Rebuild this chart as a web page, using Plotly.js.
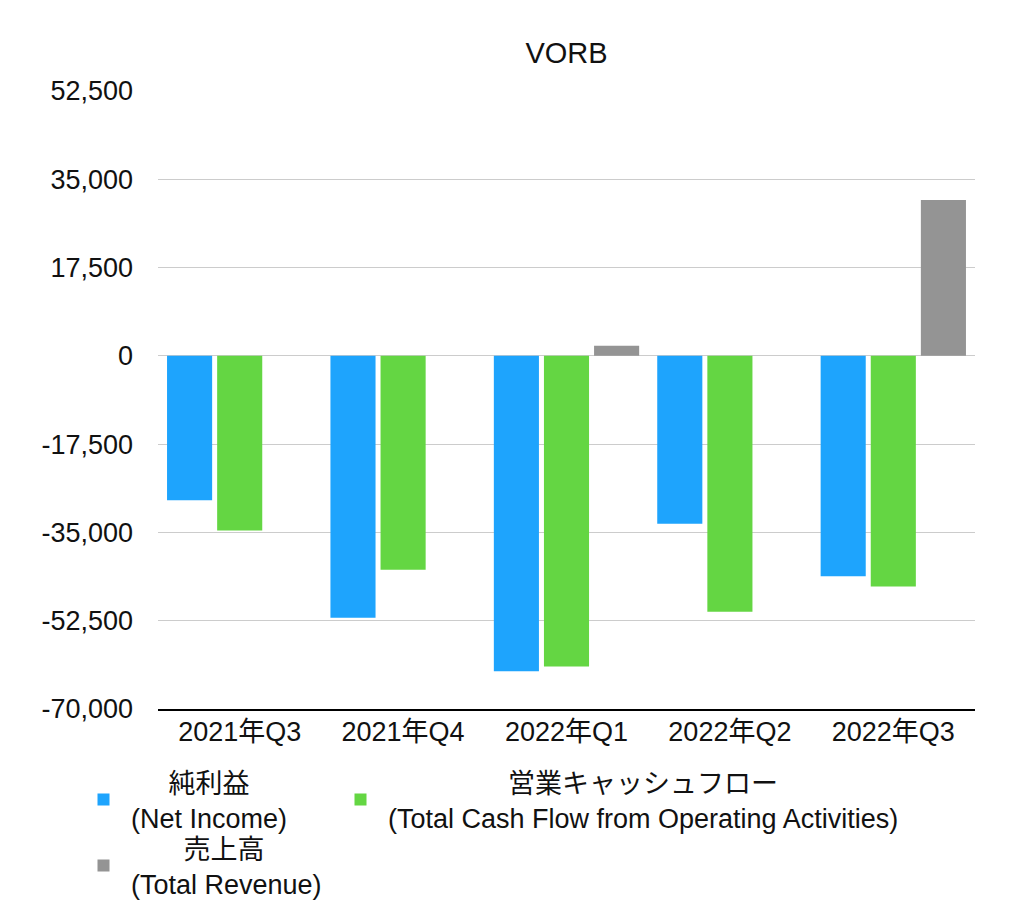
<!DOCTYPE html>
<html>
<head>
<meta charset="utf-8">
<script src="https://cdn.plot.ly/plotly-3.0.1.min.js"></script>
<style>
  html, body { margin: 0; padding: 0; background: #fff; }
  #chart { width: 1024px; height: 919px; }
</style>
</head>
<body>
<div id="chart"></div>
<script>
// ---- data ----
const categories = ['2021年Q3', '2021年Q4', '2022年Q1', '2022年Q2', '2022年Q3'];
const netIncome = [-28600, -51900, -62500, -33300, -43700];
const cashFlow  = [-34600, -42400, -61600, -50700, -45700];
const revenue   = [0, 0, 2000, 0, 30900];
const yTickVals = [-70000, -52500, -35000, -17500, 0, 17500, 35000, 52500];
const yTickText = ['-70,000', '-52,500', '-35,000', '-17,500', '0', '17,500', '35,000', '52,500'];
const seriesNames = [
  '\u00a0\u00a0\u00a0\u00a0\u00a0\u00a0純利益<br>\u00a0(Net Income)',
  '\u00a0'.repeat(17) + '営業キャッシュフロー<br>\u00a0(Total Cash Flow from Operating Activities)',
  '\u00a0'.repeat(8) + '売上高<br>\u00a0(Total Revenue)'
];

// ---- chart ----
const FONT = '"Liberation Sans", Arial, "Noto Sans CJK JP", sans-serif';
const W = 1024, H = 919;
const M = {l: 158, r: 49, t: 91, b: 210};
const pw = W - M.l - M.r, ph = H - M.t - M.b;
const px = x => (x - M.l) / pw;
const py = y => (H - M.b - y) / ph;

const traces = [
  {type: 'bar', x: categories, y: netIncome, name: seriesNames[0],
   marker: {color: '#1EA4FD'}, legend: 'legend'},
  {type: 'bar', x: categories, y: cashFlow, name: seriesNames[1],
   marker: {color: '#64D643'}, legend: 'legend2'},
  {type: 'bar', x: categories, y: revenue, name: seriesNames[2],
   marker: {color: '#949494'}, legend: 'legend3'}
];

const legendBase = {
  orientation: 'v', xanchor: 'left', yanchor: 'middle',
  bgcolor: 'rgba(0,0,0,0)', borderwidth: 0,
  font: {family: FONT, size: 27, color: '#111'}
};

const layout = {
  width: W, height: H,
  margin: {l: M.l, r: M.r, t: M.t, b: M.b, autoexpand: false},
  paper_bgcolor: '#fff', plot_bgcolor: '#fff',
  font: {family: FONT, size: 27, color: '#111'},
  title: {text: 'VORB', font: {family: FONT, size: 29, color: '#111'},
          xref: 'paper', x: 0.5, xanchor: 'center',
          yref: 'container', y: 1 - 53 / H, yanchor: 'middle'},
  barmode: 'group', bargap: 0.08, bargroupgap: 0.1,
  xaxis: {type: 'category', showgrid: false, zeroline: false,
          showline: true, linecolor: '#000', linewidth: 2,
          ticks: '', ticklabelstandoff: -2,
          tickfont: {family: FONT, size: 27, color: '#111'}},
  yaxis: {range: [-70000, 52500], tickvals: yTickVals, ticktext: yTickText,
          showgrid: true, gridcolor: '#cccccc', gridwidth: 1,
          zeroline: false, showline: false, ticks: '', ticklabelstandoff: 24,
          tickfont: {family: FONT, size: 27, color: '#111'}},
  showlegend: true,
  legend:  Object.assign({}, legendBase, {x: px(83.5), y: py(800)}),
  legend2: Object.assign({}, legendBase, {x: px(340.5), y: py(800)}),
  legend3: Object.assign({}, legendBase, {x: px(83.5), y: py(866)})
};

Plotly.newPlot('chart', traces, layout, {staticPlot: true, displayModeBar: false});
</script>
</body>
</html>
